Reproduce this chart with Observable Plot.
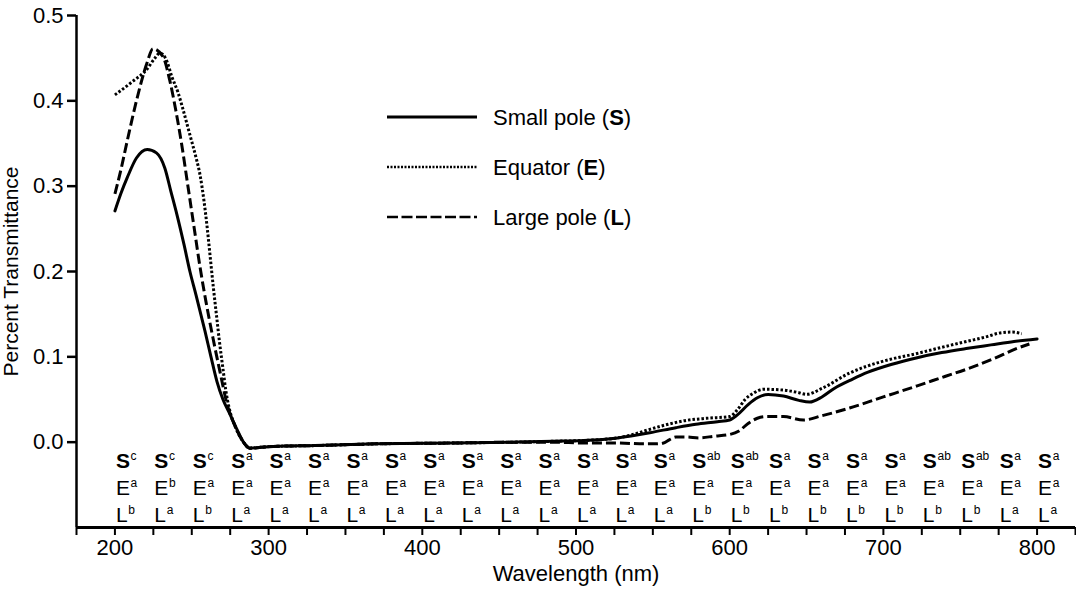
<!DOCTYPE html>
<html>
<head>
<meta charset="utf-8">
<script src="https://cdn.jsdelivr.net/npm/d3@7"></script>
<script src="https://cdn.jsdelivr.net/npm/@observablehq/plot@0.6"></script>
<style>
  html, body { margin: 0; padding: 0; background: #fff; }
  #chart { width: 1076px; height: 592px; }
</style>
</head>
<body>
<div id="chart"></div>
<script>
// ---------- Data ----------
const seriesNames = ["Small pole", "Equator", "Large pole"];
const seriesAbbr = ["S", "E", "L"];

// Small pole (S) — solid
const wavelengthS = [200, 204, 208, 214, 221, 227, 232.5, 236.4, 240.3, 244.9, 248.8, 252.7, 258.6, 262.5, 266.4, 270.3, 274.8, 279.4, 283.3, 287.8, 295, 303, 330, 370, 420, 460, 485, 505, 527, 548, 565, 578, 592, 600, 605, 612, 618, 625, 635, 645, 652, 660, 668, 680, 690, 705, 722, 738, 755, 770, 785, 800];
const valueS = [0.271, 0.292, 0.310, 0.333, 0.343, 0.339, 0.321, 0.294, 0.267, 0.232, 0.200, 0.173, 0.130, 0.100, 0.071, 0.050, 0.033, 0.015, 0.001, -0.007, -0.006, -0.005, -0.004, -0.002, -0.001, 0.000, 0.001, 0.002, 0.005, 0.011, 0.017, 0.021, 0.024, 0.026, 0.032, 0.044, 0.052, 0.056, 0.054, 0.049, 0.047, 0.053, 0.063, 0.074, 0.082, 0.091, 0.099, 0.105, 0.110, 0.114, 0.118, 0.121];

// Equator (E) — dotted
const wavelengthE = [200, 211.7, 220.8, 226, 229.3, 233.2, 237.1, 241, 244.3, 248.8, 252.7, 255.5, 258, 260, 262, 264, 266, 268, 270.3, 272.2, 274.2, 278.1, 283.3, 287.8, 295, 303, 330, 370, 420, 460, 485, 505, 527, 537, 548, 560, 570, 585, 600, 605, 610, 616, 622, 635, 645, 650, 660, 678, 700, 722, 740, 754, 766, 776, 784, 790];
const valueE = [0.407, 0.423, 0.437, 0.450, 0.456, 0.449, 0.428, 0.410, 0.390, 0.360, 0.334, 0.312, 0.282, 0.252, 0.217, 0.182, 0.150, 0.118, 0.086, 0.060, 0.041, 0.019, 0.001, -0.007, -0.006, -0.005, -0.004, -0.002, -0.001, 0.000, 0.001, 0.002, 0.005, 0.009, 0.015, 0.021, 0.025, 0.028, 0.030, 0.038, 0.050, 0.058, 0.062, 0.061, 0.058, 0.056, 0.063, 0.081, 0.095, 0.104, 0.112, 0.118, 0.123, 0.128, 0.129, 0.127];

// Large pole (L) — dashed
const wavelengthL = [200, 204, 208, 214, 220.8, 224.7, 231.2, 235.8, 239.7, 243.6, 247.5, 251.4, 255.3, 259.2, 263.8, 268.3, 272.9, 278.1, 283.3, 287.8, 295, 303, 330, 370, 420, 460, 485, 505, 527, 545, 552, 557, 561, 565, 572, 580, 590, 600, 606, 612, 618, 624, 635, 648, 660, 678, 700, 722, 740, 755, 772, 787, 795];
const valueL = [0.291, 0.320, 0.353, 0.400, 0.444, 0.461, 0.452, 0.423, 0.388, 0.347, 0.300, 0.253, 0.206, 0.165, 0.122, 0.083, 0.045, 0.019, 0.001, -0.007, -0.006, -0.005, -0.004, -0.002, -0.001, 0.000, 0.000, -0.001, -0.001, -0.002, -0.002, -0.001, 0.003, 0.006, 0.006, 0.005, 0.007, 0.009, 0.013, 0.022, 0.028, 0.030, 0.030, 0.026, 0.031, 0.040, 0.053, 0.066, 0.077, 0.086, 0.098, 0.110, 0.115];

// Significance letters under the curves
const letterWavelengths = [200, 225, 250, 275, 300, 325, 350, 375, 400, 425, 450, 475, 500, 525, 550, 575, 600, 625, 650, 675, 700, 725, 750, 775, 800];
const supS = ["c","c","c","a","a","a","a","a","a","a","a","a","a","a","a","ab","ab","a","a","a","a","ab","ab","a","a"];
const supE = ["a","b","a","a","a","a","a","a","a","a","a","a","a","a","a","a","a","a","a","a","a","a","a","a","a"];
const supL = ["b","a","b","a","a","a","a","a","a","a","a","a","a","a","a","b","b","b","b","b","b","b","b","a","a"];

// Axis ticks
const yTicks = [0, 0.1, 0.2, 0.3, 0.4, 0.5];
const xMajorTicks = [200, 300, 400, 500, 600, 700, 800];
const xMinorTicks = [175, 200, 225, 250, 275, 300, 325, 350, 375, 400, 425, 450, 475, 500, 525, 550, 575, 600, 625, 650, 675, 700, 725, 750, 775, 800, 825];
const xDomain = [175, 825];
const yDomain = [-0.1, 0.5];

// ---------- Build tables ----------
const toPoints = (wl, v) => wl.map((w, i) => ({wl: w, v: v[i]}));
const dataS = toPoints(wavelengthS, valueS);
const dataE = toPoints(wavelengthE, valueE);
const dataL = toPoints(wavelengthL, valueL);
const letterRows = letterWavelengths.map((w, i) => ({w, s: supS[i], e: supE[i], l: supL[i]}));

const FONT = "'Liberation Sans', Arial, Helvetica, sans-serif";
const FS = 22;
const rows = [
  {base: "S", key: "s", dy: -66, weight: "bold", width: 14.2},
  {base: "E", key: "e", dy: -39, weight: "normal", width: 14.2},
  {base: "L", key: "l", dy: -12, weight: "normal", width: 11.9}
];

const letterMarks = rows.flatMap(r => [
  Plot.text(letterRows, {x: "w", text: () => r.base, frameAnchor: "bottom", dy: r.dy, dx: 1,
    textAnchor: "start", lineAnchor: "middle", fontSize: 21, fontWeight: r.weight, fill: "#000"}),
  Plot.text(letterRows, {x: "w", text: r.key, frameAnchor: "bottom", dy: r.dy - 5, dx: 1 + r.width + 0.5,
    textAnchor: "start", lineAnchor: "middle", fontSize: 12, fill: "#000"})
]);

const plot = Plot.plot({
  width: 1076,
  height: 592,
  marginTop: 15,
  marginBottom: 65,
  marginLeft: 76,
  marginRight: 1,
  style: {fontFamily: FONT, background: "#fff", color: "#000", overflow: "visible"},
  x: {domain: xDomain},
  y: {domain: yDomain},
  marks: [
    Plot.axisY(yTicks, {tickSize: 9, tickPadding: 4, tickFormat: d3.format(".1f"), fontSize: FS, strokeWidth: 2.5, label: null}),
    Plot.axisX(xMinorTicks, {tickSize: 8, tickPadding: 4, tickFormat: d => xMajorTicks.includes(d) ? String(d) : "", fontSize: FS, strokeWidth: 2, label: null}),
    Plot.ruleX([xDomain[0]], {y1: yDomain[0], y2: yDomain[1], strokeWidth: 2.5}),
    Plot.ruleY([yDomain[0]], {x1: xDomain[0], x2: xDomain[1], strokeWidth: 3.2}),
    Plot.line(dataS, {x: "wl", y: "v", curve: "monotone-x", stroke: "#000", strokeWidth: 3}),
    Plot.line(dataE, {x: "wl", y: "v", curve: "monotone-x", stroke: "#000", strokeWidth: 3, strokeDasharray: "2.5,2", strokeLinecap: "butt"}),
    Plot.line(dataL, {x: "wl", y: "v", curve: "monotone-x", stroke: "#000", strokeWidth: 3, strokeDasharray: "10,4", strokeLinecap: "butt"}),
    ...letterMarks,
    Plot.text(["Wavelength (nm)"], {frameAnchor: "bottom", dy: 46, lineAnchor: "middle", fontSize: FS, fill: "#000"}),
    Plot.text(["Percent Transmittance"], {frameAnchor: "left", dx: -73, rotate: -90, textAnchor: "middle", lineAnchor: "top", fontSize: 21, fill: "#000"})
  ]
});

// ---------- Legend ----------
const svg = d3.select(plot);
const legendDash = [null, "2,1.5", "11,3.5"];
const legend = svg.append("g").attr("font-family", FONT).attr("font-size", FS).attr("text-anchor", "start");
seriesNames.forEach((name, i) => {
  const y = 117 + i * 50;
  legend.append("line")
    .attr("x1", 387).attr("x2", 477).attr("y1", y).attr("y2", y)
    .attr("stroke", "#000").attr("stroke-width", i === 0 ? 3 : 2.5)
    .attr("stroke-dasharray", legendDash[i]);
  const t = legend.append("text").attr("x", 493).attr("y", y).attr("dy", "0.35em").attr("fill", "#000");
  t.append("tspan").text(name + " (");
  t.append("tspan").attr("font-weight", "bold").text(seriesAbbr[i]);
  t.append("tspan").text(")");
});

document.getElementById("chart").appendChild(plot);
</script>
</body>
</html>
